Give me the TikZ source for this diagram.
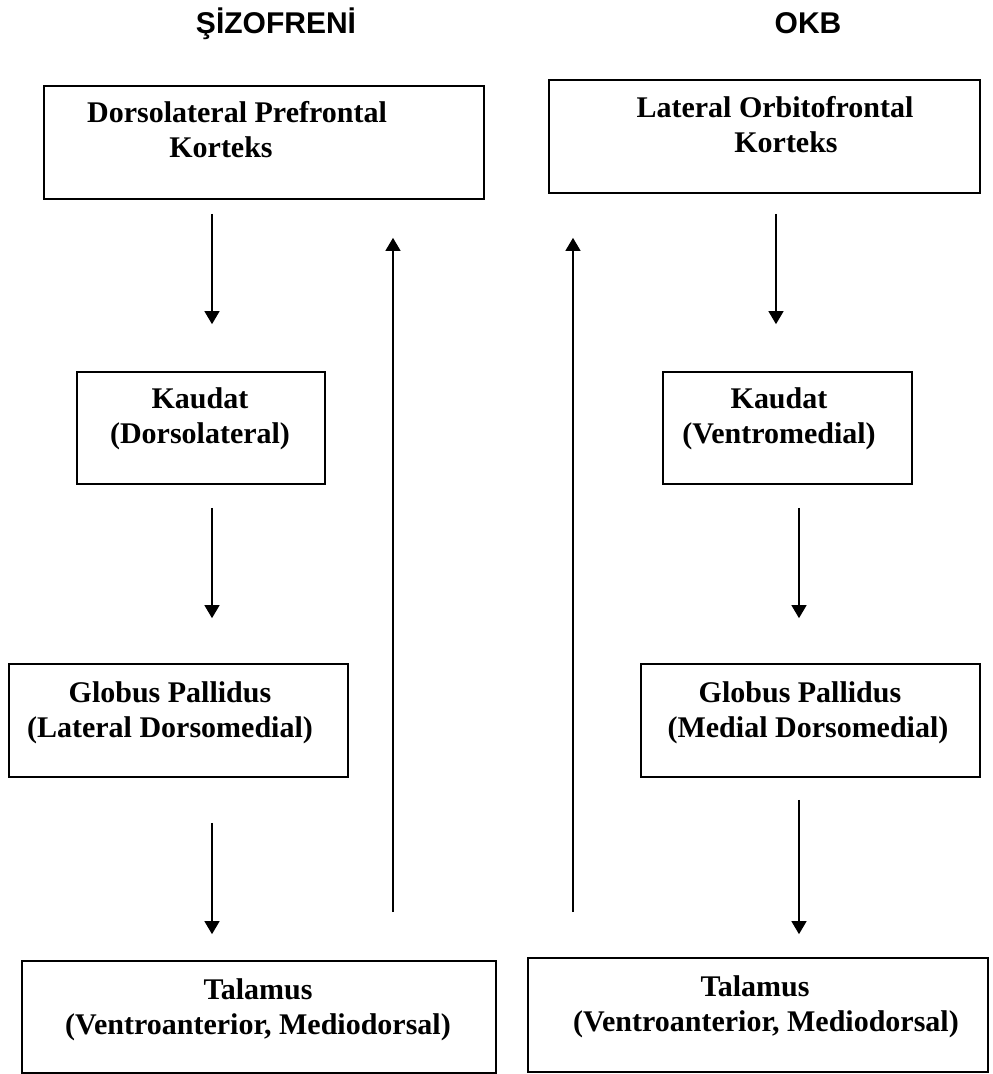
\documentclass[tikz,border=0pt]{standalone}
\usepackage{fontspec}
\setmainfont{Liberation Serif}
\newfontfamily\headfont{Liberation Sans}
\usetikzlibrary{arrows.meta}

\begin{document}
\begin{tikzpicture}[x=1pt,y=-1pt,>={Triangle[length=13pt,width=15pt]}]
    \tikzstyle{box}=[draw, line width=1.7pt, inner sep=0pt]
    \tikzstyle{txt}=[anchor=base, inner sep=0pt, align=center, font=\fontsize{30}{34.5}\selectfont\bfseries]
    \tikzstyle{ttl}=[anchor=base, inner sep=0pt, font=\headfont\bfseries\fontsize{30}{34}\selectfont]
    \tikzstyle{arr}=[->, line width=1.3pt]
    \useasboundingbox (0,0) rectangle (993,1074);

	\node [ttl] (sz) at (276, 33) {ŞİZOFRENİ};
	\node [ttl] (okb) at (808, 33) {OKB};

	\node [box, minimum width=440, minimum height=113] (dlpfc) at (264, 142.5) {};
	\node [txt] (dlpfc-t) at (237, 157) {Dorsolateral Prefrontal\\ \hspace*{-32pt}Korteks};

	\node [box, minimum width=431, minimum height=113] (lofc) at (764.5, 136.5) {};
	\node [txt] (lofc-t) at (775, 152) {Lateral Orbitofrontal\\ \hspace*{22pt}Korteks};

	\node [box, minimum width=248, minimum height=112] (kaudatL) at (201, 428) {};
	\node [txt] (kaudatL-t) at (200, 443) {Kaudat\\ (Dorsolateral)};

	\node [box, minimum width=249, minimum height=112] (kaudatR) at (787.5, 428) {};
	\node [txt] (kaudatR-t) at (779, 443) {Kaudat\\ (Ventromedial)};

	\node [box, minimum width=339, minimum height=113] (gpL) at (178.5, 720.5) {};
	\node [txt] (gpL-t) at (170, 737) {Globus Pallidus\\ (Lateral Dorsomedial)};

	\node [box, minimum width=339, minimum height=113] (gpR) at (810.5, 720.5) {};
	\node [txt] (gpR-t) at (800, 737) {Globus Pallidus\\ \hspace*{16pt}(Medial Dorsomedial)};

	\node [box, minimum width=474, minimum height=112] (talL) at (259, 1017) {};
	\node [txt] (talL-t) at (258, 1034) {Talamus\\ (Ventroanterior, Mediodorsal)};

	\node [box, minimum width=460, minimum height=114] (talR) at (758, 1015) {};
	\node [txt] (talR-t) at (755, 1031) {Talamus\\ \hspace*{22pt}(Ventroanterior, Mediodorsal)};

	\coordinate (cl) at (212, 0);
	\coordinate (cr1) at (776, 0);
	\coordinate (cr2) at (799, 0);
	\coordinate (ul) at (393, 0);
	\coordinate (ur) at (573, 0);

	\draw [arr, shorten <=14pt, shorten >=47pt] (cl |- dlpfc.south) -- (cl |- kaudatL.north);
	\draw [arr, shorten <=23pt, shorten >=45pt] (cl |- kaudatL.south) -- (cl |- gpL.north);
	\draw [arr, shorten <=45pt, shorten >=26pt] (cl |- gpL.south) -- (cl |- talL.north);

	\draw [arr, shorten <=20pt, shorten >=47pt] (cr1 |- lofc.south) -- (cr1 |- kaudatR.north);
	\draw [arr, shorten <=23pt, shorten >=45pt] (cr2 |- kaudatR.south) -- (cr2 |- gpR.north);
	\draw [arr, shorten <=22pt, shorten >=23pt] (cr2 |- gpR.south) -- (cr2 |- talR.north);

	\draw [arr, shorten <=48pt, shorten >=38pt] (ul |- talL.north) -- (ul |- dlpfc.south);
	\draw [arr, shorten <=45pt, shorten >=44pt] (ur |- talR.north) -- (ur |- lofc.south);
\end{tikzpicture}
\end{document}
